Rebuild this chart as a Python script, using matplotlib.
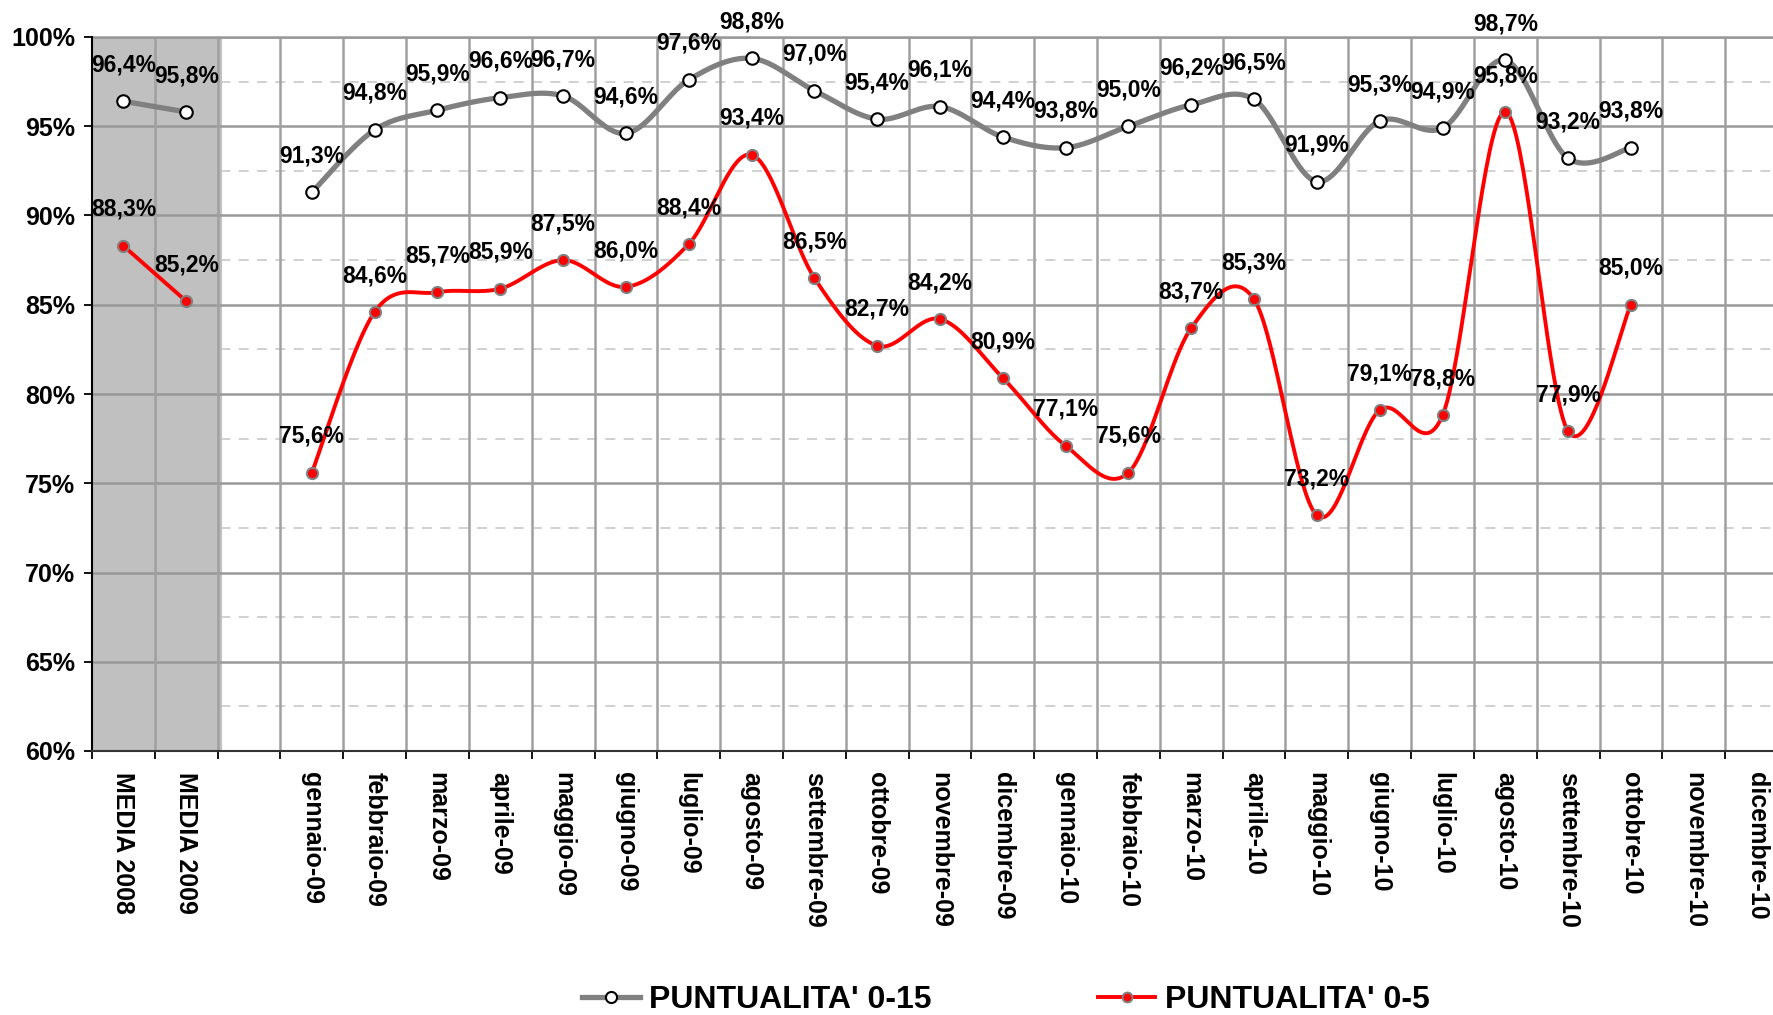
import numpy as np
import matplotlib
matplotlib.use("Agg")
import matplotlib.pyplot as plt
from matplotlib.lines import Line2D

categories = ["MEDIA 2008", "MEDIA 2009", "",
              "gennaio-09", "febbraio-09", "marzo-09", "aprile-09", "maggio-09", "giugno-09",
              "luglio-09", "agosto-09", "settembre-09", "ottobre-09", "novembre-09", "dicembre-09",
              "gennaio-10", "febbraio-10", "marzo-10", "aprile-10", "maggio-10", "giugno-10",
              "luglio-10", "agosto-10", "settembre-10", "ottobre-10", "novembre-10", "dicembre-10"]

punt_0_15 = [96.4, 95.8, None,
             91.3, 94.8, 95.9, 96.6, 96.7, 94.6, 97.6, 98.8, 97.0, 95.4, 96.1, 94.4,
             93.8, 95.0, 96.2, 96.5, 91.9, 95.3, 94.9, 98.7, 93.2, 93.8, None, None]

punt_0_5 = [88.3, 85.2, None,
            75.6, 84.6, 85.7, 85.9, 87.5, 86.0, 88.4, 93.4, 86.5, 82.7, 84.2, 80.9,
            77.1, 75.6, 83.7, 85.3, 73.2, 79.1, 78.8, 95.8, 77.9, 85.0, None, None]

y_ticks = [60, 65, 70, 75, 80, 85, 90, 95, 100]
y_tick_labels = ["60%", "65%", "70%", "75%", "80%", "85%", "90%", "95%", "100%"]
series_names = ["PUNTUALITA' 0-15", "PUNTUALITA' 0-5"]

plt.rcParams["font.family"] = ["Liberation Sans", "DejaVu Sans"]
plt.rcParams["font.weight"] = "bold"

W, H = 1773, 1015
fig = plt.figure(figsize=(W / 100, H / 100), dpi=100)
left_px, right_px, top_px, bot_px = 92, 1788, 37, 751
ax = fig.add_axes([left_px / W, 1 - bot_px / H, (right_px - left_px) / W, (bot_px - top_px) / H])

n = len(categories)
ax.set_xlim(-0.5, n - 0.5)
ax.set_ylim(60, 100)


def runs(vals):
    out, cur = [], []
    for i, v in enumerate(vals):
        if v is None:
            if cur:
                out.append(cur)
            cur = []
        else:
            cur.append((i, v))
    if cur:
        out.append(cur)
    return out


def smooth(run, npts=40):
    pts = np.array(run, dtype=float)
    if len(pts) < 3:
        return pts[:, 0], pts[:, 1]
    xs, ys = [], []
    m = len(pts)
    t = np.linspace(0, 1, npts)[:, None]
    for i in range(m - 1):
        p0 = pts[max(i - 1, 0)]
        p1 = pts[i]
        p2 = pts[i + 1]
        p3 = pts[min(i + 2, m - 1)]
        c1 = p1 + (p2 - p0) / 6.0
        c2 = p2 - (p3 - p1) / 6.0
        seg = ((1 - t) ** 3) * p1 + 3 * ((1 - t) ** 2) * t * c1 + 3 * (1 - t) * t ** 2 * c2 + t ** 3 * p2
        if i > 0:
            seg = seg[1:]
        xs.append(seg[:, 0])
        ys.append(seg[:, 1])
    return np.concatenate(xs), np.concatenate(ys)


# background layers
for y in np.arange(62.5, 100, 5):
    ax.axhline(y, color="#c8c8c8", lw=1.2, ls=(0, (6, 5)), zorder=0.5)
ax.axvspan(-0.5, 1.57, color="#c0c0c0", zorder=1, lw=0)
for y in y_ticks[1:]:
    ax.axhline(y, color="#999999", lw=1.8, zorder=1.5)
for k in range(1, n):
    ax.axvline(k - 0.5, color="#a0a0a0", lw=1.8, zorder=1.5)

gray = "#808080"
red = "#ff0000"
styles = [
    dict(vals=punt_0_15, color=gray, lw=3.8, mfc="white", mec="black", ms=9, mew=1.5),
    dict(vals=punt_0_5, color=red, lw=2.8, mfc=red, mec="#808080", ms=8, mew=1.5),
]

handles = []
for st, name in zip(styles, series_names):
    for run in runs(st["vals"]):
        xs, ys = smooth(run)
        ax.plot(xs, ys, color=st["color"], lw=st["lw"], zorder=3, solid_capstyle="round")
        px = [p[0] for p in run]
        py = [p[1] for p in run]
        ax.plot(px, py, ls="none", marker="o", ms=st["ms"], mfc=st["mfc"], mec=st["mec"],
                mew=st["mew"], zorder=4)
        for x, v in run:
            ax.annotate(f"{v:.1f}%".replace(".", ","), (x, v), xytext=(0, 21.5),
                        textcoords="offset points", ha="center", va="baseline",
                        fontsize=16.5, fontweight="bold", zorder=6, annotation_clip=False)
    handles.append(Line2D([], [], color=st["color"], lw=st["lw"], marker="o", ms=st["ms"] - 1,
                          mfc=st["mfc"], mec=st["mec"], mew=st["mew"]))

# axes styling
ax.spines["right"].set_visible(False)
ax.spines["top"].set_color("#999999")
ax.spines["top"].set_linewidth(1.8)
ax.spines["left"].set_color("black")
ax.spines["left"].set_linewidth(1.5)
ax.spines["bottom"].set_color("#333333")
ax.spines["bottom"].set_linewidth(1.5)
ax.spines["left"].set_zorder(5)
ax.spines["bottom"].set_zorder(5)

ax.set_yticks(y_ticks)
ax.set_yticklabels(y_tick_labels, fontsize=18, fontweight="bold")
ax.tick_params(axis="y", direction="out", length=6, width=1.3, pad=6, color="black")

ax.set_xticks([k - 0.5 for k in range(0, n)])
ax.set_xticklabels([])
ax.set_xticks(list(range(n)), minor=True)
ax.set_xticklabels(categories, minor=True, rotation=-90, fontsize=18, fontweight="bold",
                   ha="center", va="top")
ax.tick_params(axis="x", which="major", direction="out", length=6, width=1.3, color="black")
ax.tick_params(axis="x", which="minor", length=0, pad=15)

fig.legend(handles, series_names, loc="center", bbox_to_anchor=(1006 / W, 1 - 1000 / H),
           ncol=2, frameon=False, prop=dict(weight="bold", size=23),
           handlelength=1.8, handletextpad=0.3, columnspacing=5.2)

fig.savefig("out.png", dpi=100)
